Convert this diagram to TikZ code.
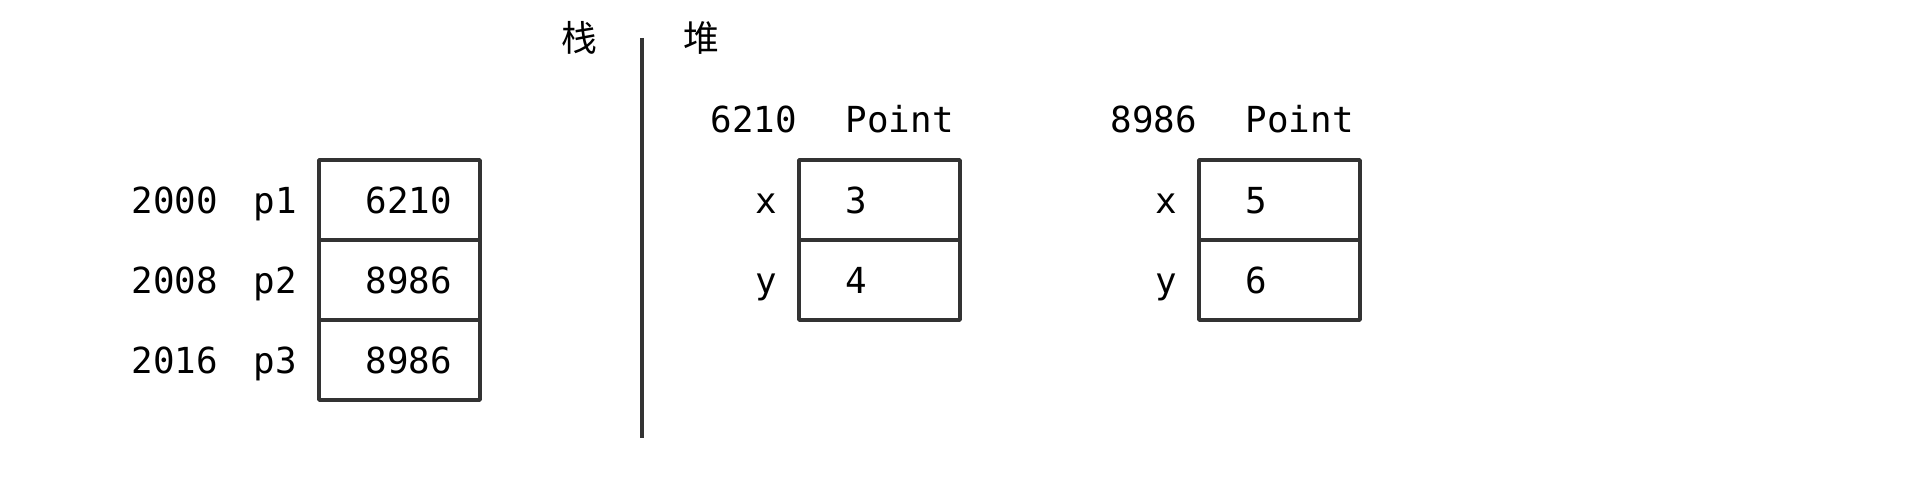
\documentclass[tikz,border=0pt]{standalone}
\usepackage{fontspec}
\setmonofont{DejaVu Sans Mono}
\newfontfamily\cjkfont{Noto Sans CJK SC}
\usetikzlibrary{calc}
\tikzset{>=latex}
\tikzset{
  memline/.style={line width=0.36mm, draw=black!80, line join=round},
  memtext/.style={font=\fontsize{10.2}{12}\selectfont\ttfamily, inner sep=0pt, anchor=base west},
  memname/.style={memtext, anchor=base},
  zhtext/.style={font=\fontsize{10.2}{12}\selectfont\cjkfont, inner sep=0pt, anchor=base}
}

\begin{document}
\begin{tikzpicture}[x=0.1mm, y=-0.1mm]
    \def\cellw{161}
    \def\cellh{80}
    \def\pad{46}

    \useasboundingbox (0,0) rectangle (1920,480);

    \coordinate (STACK) at (319,160);
    \coordinate (HEAPA) at (799,160);
    \coordinate (HEAPB) at (1199,160);

    % Stack / Heap divider
    \draw[memline] (642,38) -- (642,438);
    \node[zhtext] (zhan) at (579,52) {栈};
    \node[zhtext] (dui) at (701,52) {堆};

    % Stack cells
    \draw[memline] (STACK) rectangle ($(STACK)+(\cellw,3*\cellh)$);
    \draw[memline] ($(STACK)+(0,\cellh)$) -- ($(STACK)+(\cellw,\cellh)$);
    \draw[memline] ($(STACK)+(0,2*\cellh)$) -- ($(STACK)+(\cellw,2*\cellh)$);

    \node[memtext] (addrA) at (131,214) {2000};
    \node[memtext] (addrB) at (131,294) {2008};
    \node[memtext] (addrC) at (131,374) {2016};
    \node[memtext] (pA) at (253,214) {p1};
    \node[memtext] (pB) at (253,294) {p2};
    \node[memtext] (pC) at (253,374) {p3};
    \node[memtext] (valA) at ($(STACK)+(\pad,54)$) {6210};
    \node[memtext] (valB) at ($(STACK)+(\pad,134)$) {8986};
    \node[memtext] (valC) at ($(STACK)+(\pad,214)$) {8986};

    % Heap object at 6210
    \draw[memline] (HEAPA) rectangle ($(HEAPA)+(\cellw,2*\cellh)$);
    \draw[memline] ($(HEAPA)+(0,\cellh)$) -- ($(HEAPA)+(\cellw,\cellh)$);
    \node[memtext] (objA) at ($(HEAPA)+(-89,-27)$) {6210};
    \node[memtext] (typeA) at ($(HEAPA)+(\pad,-27)$) {Point};
    \node[memname] (xA) at ($(HEAPA)+(-33,54)$) {x};
    \node[memname] (yA) at ($(HEAPA)+(-33,134)$) {y};
    \node[memtext] (xvalA) at ($(HEAPA)+(\pad,54)$) {3};
    \node[memtext] (yvalA) at ($(HEAPA)+(\pad,134)$) {4};

    % Heap object at 8986
    \draw[memline] (HEAPB) rectangle ($(HEAPB)+(\cellw,2*\cellh)$);
    \draw[memline] ($(HEAPB)+(0,\cellh)$) -- ($(HEAPB)+(\cellw,\cellh)$);
    \node[memtext] (objB) at ($(HEAPB)+(-89,-27)$) {8986};
    \node[memtext] (typeB) at ($(HEAPB)+(\pad,-27)$) {Point};
    \node[memname] (xB) at ($(HEAPB)+(-33,54)$) {x};
    \node[memname] (yB) at ($(HEAPB)+(-33,134)$) {y};
    \node[memtext] (xvalB) at ($(HEAPB)+(\pad,54)$) {5};
    \node[memtext] (yvalB) at ($(HEAPB)+(\pad,134)$) {6};
\end{tikzpicture}
\end{document}
